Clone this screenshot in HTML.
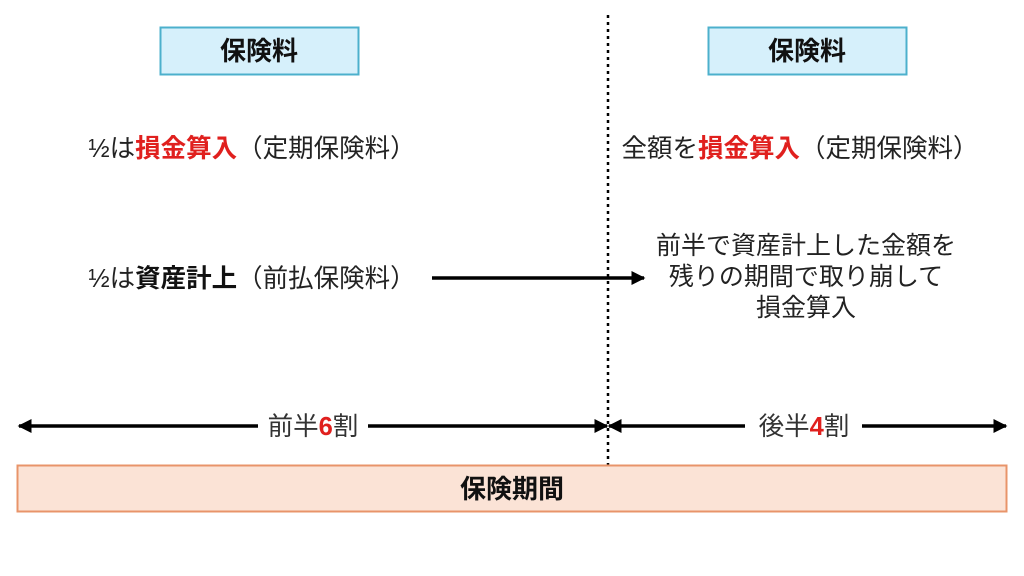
<!DOCTYPE html>
<html><head><meta charset="utf-8"><style>
html,body{margin:0;padding:0;background:#fff;}
svg{display:block}
text{font-family:"Liberation Sans","Noto Sans CJK JP",sans-serif;}
</style></head><body>
<svg width="1024" height="576" viewBox="0 0 1024 576" xmlns="http://www.w3.org/2000/svg">
<defs>
<marker id="ah" viewBox="0 0 10 10" refX="9" refY="5" markerWidth="4" markerHeight="4" orient="auto-start-reverse">
<path d="M0,0 L10,5 L0,10 z" fill="#000"/></marker>
</defs>
<rect x="160.5" y="27.5" width="198" height="47" fill="#d6f0fb" stroke="#4cb0cc" stroke-width="2"/>
<text x="259" y="60" font-size="26" font-weight="bold" text-anchor="middle" fill="#111">保険料</text>
<rect x="708.5" y="27.5" width="198" height="47" fill="#d6f0fb" stroke="#4cb0cc" stroke-width="2"/>
<text x="807" y="60" font-size="26" font-weight="bold" text-anchor="middle" fill="#111">保険料</text>

<line x1="608" y1="15" x2="608" y2="465" stroke="#000" stroke-width="2.5" stroke-dasharray="3,4"/>

<text x="252" y="157" font-size="25.5" text-anchor="middle" fill="#222">½は<tspan fill="#e0201e" font-weight="bold">損金算入</tspan>（定期保険料）</text>
<text x="252" y="287" font-size="25.5" text-anchor="middle" fill="#222">½は<tspan font-weight="bold" fill="#111">資産計上</tspan>（前払保険料）</text>
<text x="800" y="157" font-size="25.5" text-anchor="middle" fill="#222">全額を<tspan fill="#e0201e" font-weight="bold">損金算入</tspan>（定期保険料）</text>
<text x="806" y="254" font-size="25" text-anchor="middle" fill="#222">前半で資産計上した金額を</text>
<text x="806" y="285" font-size="25" text-anchor="middle" fill="#222">残りの期間で取り崩して</text>
<text x="806" y="316" font-size="25" text-anchor="middle" fill="#222">損金算入</text>

<line x1="432" y1="278" x2="644" y2="278" stroke="#000" stroke-width="3.5" marker-end="url(#ah)"/>

<line x1="19" y1="426" x2="258" y2="426" stroke="#000" stroke-width="3.5" marker-start="url(#ah)"/>
<line x1="368" y1="426" x2="607" y2="426" stroke="#000" stroke-width="3.5" marker-end="url(#ah)"/>
<text x="313" y="435" font-size="25.5" text-anchor="middle" fill="#333">前半<tspan fill="#e0201e" font-weight="bold">6</tspan>割</text>
<line x1="609" y1="426" x2="745" y2="426" stroke="#000" stroke-width="3.5" marker-start="url(#ah)"/>
<line x1="862" y1="426" x2="1006" y2="426" stroke="#000" stroke-width="3.5" marker-end="url(#ah)"/>
<text x="804" y="435" font-size="25.5" text-anchor="middle" fill="#333">後半<tspan fill="#e0201e" font-weight="bold">4</tspan>割</text>

<rect x="17.5" y="465.5" width="989" height="46" fill="#fbe3d6" stroke="#e8946a" stroke-width="2"/>
<text x="512" y="498" font-size="26" font-weight="bold" text-anchor="middle" fill="#111">保険期間</text>
</svg>
</body></html>
